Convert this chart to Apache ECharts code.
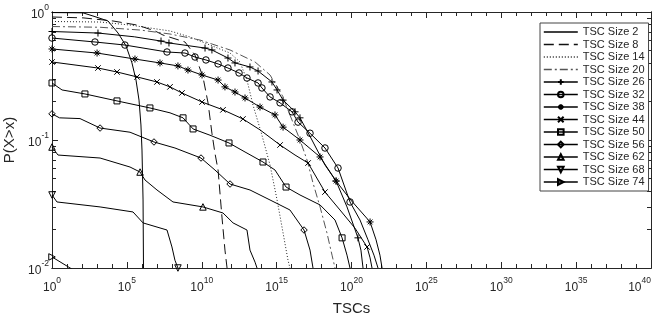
<!DOCTYPE html>
<html><head><meta charset="utf-8">
<script src="https://cdn.jsdelivr.net/npm/echarts@6/dist/echarts.min.js"></script>
<style>html,body{margin:0;padding:0;background:#fff}#c{width:662px;height:322px}</style>
</head><body><div id="c"></div>
<script>
// ---- data: x is log10(TSCs), y is P(X>x) ----
const seriesNames = ['TSC Size 2','TSC Size 8','TSC Size 14','TSC Size 20','TSC Size 26','TSC Size 32','TSC Size 38','TSC Size 44','TSC Size 50','TSC Size 56','TSC Size 62','TSC Size 68','TSC Size 74'];
const xMajorExp = [0,5,10,15,20,25,30,35,40];
const xMinorExp = [1,2,3,4,6,7,8,9,11,12,13,14,16,17,18,19,21,22,23,24,26,27,28,29,31,32,33,34,36,37,38,39];
const yMajor = [0.01,0.1,1];
const yMinor = [0.02,0.03,0.04,0.05,0.06,0.07,0.08,0.09,0.2,0.3,0.4,0.5,0.6,0.7,0.8,0.9];

const line2 = [[0,0.99],[2.07,0.985],[2.87,0.92],[3.74,0.851],[4.41,0.685],[4.94,0.545],[5.34,0.40],[5.61,0.294],[5.81,0.205],[5.94,0.131],[6.01,0.0835],[6.08,0.034],[6.11,0.01]];
const marks2 = [];
const line8 = [[0,0.914],[2.07,0.9],[4.07,0.851],[5.68,0.791],[6.88,0.711],[7.41,0.661],[8.88,0.583],[9.55,0.461],[10.08,0.311],[10.42,0.195],[10.68,0.113],[10.88,0.0791],[11.09,0.0583],[11.35,0.025],[11.55,0.0138],[11.69,0.01]];
const marks8 = [];
const line14 = [[0,0.843],[3.21,0.835],[5.21,0.791],[6.54,0.75],[7.88,0.711],[9.22,0.638],[10.55,0.552],[11.89,0.478],[12.55,0.407],[13.02,0.294],[13.42,0.188],[14.02,0.109],[14.56,0.0638],[15.03,0.034],[15.43,0.0188],[15.76,0.0115],[15.89,0.01]];
const marks14 = [];
const line20 = [[0,0.77],[3.21,0.76],[5.88,0.723],[7.88,0.673],[9.88,0.604],[11.89,0.505],[13.56,0.407],[14.56,0.322],[15.36,0.225],[15.89,0.157],[16.56,0.1],[17.03,0.0698],[17.43,0.0461],[17.90,0.03],[18.36,0.0188],[18.70,0.0126],[18.90,0.01]];
const marks20 = [];
const line26 = [[5.5,0.64],[17.36,0.1],[18.23,0.0638],[19.70,0.03],[20.63,0.0138],[20.77,0.01]];
const marks26 = [[0,0.704],[3.07,0.685],[7.28,0.593],[7.81,0.573],[10.22,0.523],[10.68,0.505],[11.75,0.437],[12.22,0.40],[13.22,0.372],[13.76,0.346],[14.69,0.284],[15.03,0.246],[15.43,0.205],[16.23,0.166],[16.56,0.149],[18.97,0.0478],[20.43,0.0172]];
const line32 = [[20.57,0.0237],[21.10,0.0166],[21.50,0.0126],[21.77,0.01]];
const marks32 = [[0,0.626],[2.87,0.583],[4.87,0.552],[7.68,0.487],[8.88,0.478],[9.55,0.445],[10.28,0.422],[11.09,0.393],[11.75,0.365],[12.49,0.334],[13.02,0.305],[13.76,0.279],[14.02,0.255],[14.56,0.217],[15.23,0.195],[16.03,0.166],[16.43,0.138],[17.23,0.113],[18.23,0.0866],[19.10,0.0604],[19.90,0.0328]];
const line38 = [[19.95,0.034],[21.64,0.0166],[21.90,0.0126],[22.04,0.01]];
const marks38 = [[0,0.514],[3.01,0.478],[5.54,0.429],[7.21,0.40],[8.41,0.379],[9.08,0.352],[10.02,0.322],[11.09,0.294],[11.55,0.26],[12.22,0.237],[12.89,0.213],[13.89,0.181],[14.89,0.157],[15.43,0.126],[16.56,0.1],[17.90,0.0737],[18.97,0.0478],[21.24,0.0229]];
const line44 = [[13.89,0.12],[16.23,0.0763],[17.76,0.0487],[19.23,0.0284],[20.23,0.0205],[21.24,0.012],[21.37,0.01]];
const marks44 = [[0,0.407],[3.07,0.365],[4.34,0.34],[5.68,0.311],[7.01,0.284],[7.88,0.26],[8.68,0.233],[10.02,0.198],[11.42,0.172],[12.75,0.146],[15.23,0.0914],[17.10,0.0661],[18.23,0.0392],[21.04,0.0146]];
const line50 = [[0.67,0.246],[7.88,0.163],[10.55,0.109],[12.89,0.0806],[14.89,0.0583],[16.56,0.0372],[17.90,0.0311],[18.90,0.0237],[19.70,0.0126],[19.90,0.01]];
const marks50 = [[0,0.279],[2.20,0.229],[4.34,0.202],[6.54,0.178],[8.75,0.149],[9.42,0.122],[11.82,0.0948],[14.09,0.0673],[15.63,0.0429],[19.37,0.0172]];
const line56 = [[0.5,0.149],[1.87,0.147],[5.21,0.115],[8.21,0.0866],[10.88,0.0583],[13.22,0.0407],[14.56,0.034],[15.89,0.0284],[17.23,0.0138],[17.43,0.01]];
const marks56 = [[0,0.16],[3.21,0.124],[6.81,0.0965],[9.95,0.0723],[11.89,0.0453],[16.83,0.0198]];
const line62 = [[0.40,0.0763],[3.21,0.0723],[5.21,0.0615],[6.21,0.0487],[7.01,0.0407],[8.08,0.0328],[11.42,0.0269],[12.09,0.0225],[13.02,0.0198],[13.22,0.0138],[13.56,0.0111],[13.69,0.01]];
const marks62 = [[0,0.0881],[5.88,0.0562],[10.08,0.030]];
const line68 = [[0.33,0.0328],[3.21,0.030],[5.41,0.0274],[6.08,0.0225],[7.68,0.0198],[8.01,0.0146],[8.21,0.0115],[9.08,0.00866]];
const marks68 = [[0,0.0372],[8.41,0.0100]];
const line74 = [[2.20,0.0085]];
const marks74 = [[0,0.0122]];

const lines = [line2,line8,line14,line20,line26,line32,line38,line44,line50,line56,line62,line68,line74];
const marks = [marks2,marks8,marks14,marks20,marks26,marks32,marks38,marks44,marks50,marks56,marks62,marks68,marks74];

// ---- styles ----
const FONT = '"Liberation Sans", Arial, sans-serif';
const INK = '#262626';
const symbols = ['none','none','none','none',
  'path://M5,0L5,10M0,5L10,5',
  'circle',
  'path://M5,0L5,10M0,5L10,5M1.6,1.6L8.4,8.4M8.4,1.6L1.6,8.4',
  'path://M0,0L10,10M10,0L0,10',
  'rect','diamond','triangle',
  'path://M0,0L10,0L5,9Z',
  'path://M0,0L9,5L0,10Z'];
const symSizes = [0,0,0,0,7,6.5,7,5.5,6,6.5,6.5,6.5,6.5];
const dashes = ['solid',[10,5],[1,2],[8,3,2,3],'solid','solid','solid','solid','solid','solid','solid','solid','solid'];
const lineColors = ['#000','#111','#222','#555','#000','#000','#000','#000','#000','#000','#000','#000','#000'];

function buildData(line, mk){
  const pts = line.map(p => ({value:[Math.pow(10,p[0]), p[1]], symbol:'none'}))
    .concat(mk.map(p => ({value:[Math.pow(10,p[0]), p[1]]})));
  pts.sort((a,b) => a.value[0]-b.value[0]);
  return pts;
}

const labFmt = v => '{b|10}{s|' + Math.round(Math.log10(v)) + '}';
const rich = {
  b:{fontSize:12, lineHeight:18, verticalAlign:'bottom', color:INK, fontFamily:FONT},
  s:{fontSize:8.5, lineHeight:18, verticalAlign:'top', color:INK, fontFamily:FONT}
};

function xAxis(grid, pos, tickVals, len, labelVals){
  return {type:'log', logBase:10, min:1, max:1e40, gridIndex:grid, position:pos,
    axisLine:{show:true, onZero:false, lineStyle:{color:INK, width:1}},
    axisTick:{show:true, inside:true, length:len, customValues:tickVals, lineStyle:{color:INK, width:1}},
    axisLabel: labelVals ? {show:true, customValues:labelVals, formatter:labFmt, rich:rich, margin:8, alignMaxLabel:'right'} : {show:false},
    splitLine:{show:false}, minorTick:{show:false}, minorSplitLine:{show:false},
    name: labelVals ? 'TSCs' : '', nameLocation:'middle', nameGap:33,
    nameTextStyle:{fontSize:15, color:INK, fontFamily:FONT}};
}
function yAxis(grid, pos, tickVals, len, labelVals){
  return {type:'log', logBase:10, min:0.01, max:1, gridIndex:grid, position:pos,
    axisLine:{show:true, onZero:false, lineStyle:{color:INK, width:1}},
    axisTick:{show:true, inside:true, length:len, customValues:tickVals, lineStyle:{color:INK, width:1}},
    axisLabel: labelVals ? {show:true, customValues:labelVals, formatter:labFmt, rich:rich, margin:3} : {show:false},
    splitLine:{show:false}, minorTick:{show:false}, minorSplitLine:{show:false},
    name: labelVals ? 'P(X>x)' : '', nameLocation:'middle', nameGap:27, nameRotate:90,
    nameTextStyle:{fontSize:15, color:INK, fontFamily:FONT}};
}

const xMaj = xMajorExp.map(e => Math.pow(10,e));
const xMin = xMinorExp.map(e => Math.pow(10,e));

const gridBox = {left:52, right:11, top:12, bottom:54, outerBoundsMode:'none', containLabel:false};

const option = {
  animation:false,
  backgroundColor:'#fff',
  textStyle:{fontFamily:FONT},
  grid:[Object.assign({},gridBox), Object.assign({},gridBox)],
  xAxis:[
    xAxis(0,'bottom',xMaj,6,xMaj),
    xAxis(0,'top',xMaj,6,null),
    xAxis(1,'bottom',xMin,4,null),
    xAxis(1,'top',xMin,4,null)
  ],
  yAxis:[
    yAxis(0,'left',yMajor,6,yMajor),
    yAxis(0,'right',yMajor,6,null),
    yAxis(1,'left',yMinor,4,null),
    yAxis(1,'right',yMinor,4,null)
  ],
  legend:{
    orient:'vertical', left:540, top:23,
    padding:[3,4,3,3], itemGap:0.5, itemWidth:34, itemHeight:7,
    backgroundColor:'#fff', borderColor:'#444', borderWidth:1,
    selectedMode:false,
    lineStyle:{width:1.6},
    textStyle:{fontSize:11, lineHeight:12, color:INK, fontFamily:FONT},
    data:seriesNames
  },
  series: seriesNames.map((name,i) => ({
    type:'line', name:name, xAxisIndex:0, yAxisIndex:0,
    data: buildData(lines[i], marks[i]),
    symbol: symbols[i], symbolSize: symSizes[i],
    showSymbol: symbols[i] !== 'none',
    lineStyle:{color:lineColors[i], width:1, type:dashes[i]},
    itemStyle:{color:'rgba(0,0,0,0)', borderColor: symbols[i]==='none' ? 'rgba(0,0,0,0)' : '#000', borderWidth: symbols[i]==='none' ? 0 : 1},
    emphasis:{disabled:true},
    clip:true, z:2+i
  }))
};

const chart = echarts.init(document.getElementById('c'), null, {renderer:'canvas'});
chart.setOption(option);
</script>
</body></html>
